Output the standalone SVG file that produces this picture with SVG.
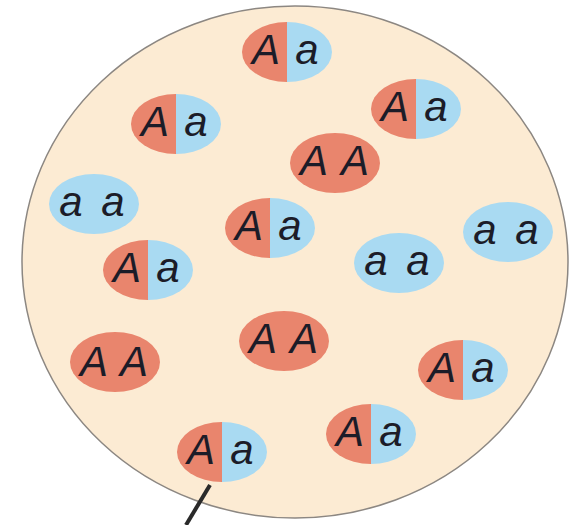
<svg xmlns="http://www.w3.org/2000/svg" xmlns:xlink="http://www.w3.org/1999/xlink" width="570" height="525" viewBox="0 0 570 525">
<style>
.bg{fill:#fcebd3;stroke:#8c8782;stroke-width:1.5}
.r{fill:#e9856d}
.b{fill:#a9daf2}
.t{font-family:"Liberation Sans",Arial,sans-serif;font-style:italic;font-size:42px;fill:#1c1c28;text-anchor:middle}
.ln{stroke:#2a2a2a;stroke-width:4;stroke-linecap:butt;fill:none}
</style>
<defs>
<path id="hl" d="M0,-30 A45,30 0 0 0 0,30 Z"/>
<path id="hr" d="M0,-30 A45,30 0 0 1 0,30 Z"/>
<ellipse id="el" cx="0" cy="0" rx="45" ry="30"/>
</defs>
<rect width="570" height="525" fill="#ffffff"/>
<ellipse class="bg" cx="295" cy="262" rx="273" ry="256"/>
<g id="connectors">
<line class="ln" x1="210" y1="485" x2="186" y2="525"/>
</g>
<g id="n1" transform="translate(287,52)"><use href="#hl" class="r"/><use href="#hr" class="b"/><text class="t" x="-21" y="12">A</text><text class="t" x="20" y="12">a</text></g>
<g id="n2" transform="translate(176,124)"><use href="#hl" class="r"/><use href="#hr" class="b"/><text class="t" x="-21" y="12">A</text><text class="t" x="20" y="12">a</text></g>
<g id="n3" transform="translate(416,109)"><use href="#hl" class="r"/><use href="#hr" class="b"/><text class="t" x="-21" y="12">A</text><text class="t" x="20" y="12">a</text></g>
<g id="n4" transform="translate(335,163)"><use href="#el" class="r"/><text class="t" x="-21" y="12">A</text><text class="t" x="20" y="12">A</text></g>
<g id="n5" transform="translate(94,204)"><use href="#el" class="b"/><text class="t" x="-23" y="12">a</text><text class="t" x="19" y="12">a</text></g>
<g id="n6" transform="translate(270,228)"><use href="#hl" class="r"/><use href="#hr" class="b"/><text class="t" x="-21" y="12">A</text><text class="t" x="20" y="12">a</text></g>
<g id="n7" transform="translate(508,232)"><use href="#el" class="b"/><text class="t" x="-23" y="12">a</text><text class="t" x="19" y="12">a</text></g>
<g id="n8" transform="translate(148,270)"><use href="#hl" class="r"/><use href="#hr" class="b"/><text class="t" x="-21" y="12">A</text><text class="t" x="20" y="12">a</text></g>
<g id="n9" transform="translate(399,263)"><use href="#el" class="b"/><text class="t" x="-23" y="12">a</text><text class="t" x="19" y="12">a</text></g>
<g id="n10" transform="translate(284,341)"><use href="#el" class="r"/><text class="t" x="-21" y="12">A</text><text class="t" x="20" y="12">A</text></g>
<g id="n11" transform="translate(115,362)"><use href="#el" class="r"/><text class="t" x="-21" y="14">A</text><text class="t" x="19" y="14">A</text></g>
<g id="n12" transform="translate(463,370)"><use href="#hl" class="r"/><use href="#hr" class="b"/><text class="t" x="-21" y="12">A</text><text class="t" x="20" y="12">a</text></g>
<g id="n13" transform="translate(371,434)"><use href="#hl" class="r"/><use href="#hr" class="b"/><text class="t" x="-21" y="12">A</text><text class="t" x="20" y="12">a</text></g>
<g id="n14" transform="translate(222,452)"><use href="#hl" class="r"/><use href="#hr" class="b"/><text class="t" x="-21" y="12">A</text><text class="t" x="20" y="12">a</text></g>
</svg>
